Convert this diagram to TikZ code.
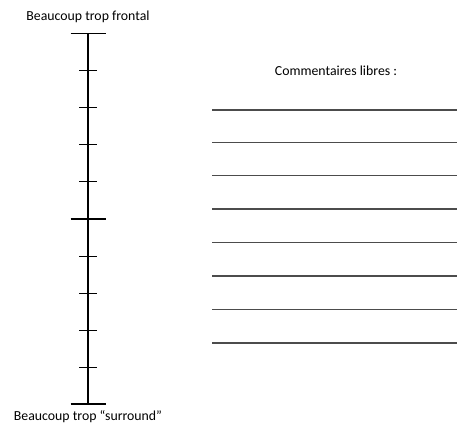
\documentclass[tikz,border=0pt]{standalone}
\usepackage{fontspec}
\setmainfont{Carlito}
\usepackage{tikz}
\usetikzlibrary{positioning}

\begin{document}
\begin{tikzpicture}[x=1pt, y=-1pt, font=\fontsize{13.8}{16}\selectfont]
    \useasboundingbox (0,0) rectangle (457,423);

    % the scale: main axis
    \coordinate (top) at (88, 33.5);
    \coordinate (bottom) at (88, 404);
    \draw [line width=1.3pt] (top) -- (bottom);

    % long ticks at both ends and in the middle
    \foreach \y in {33.5, 219, 404}
        \draw [line width=1.8pt] (70.5,\y) -- (105.5,\y);

    % short ticks
    \foreach \y in {70.6, 107.7, 144.8, 181.9, 256.1, 293.2, 330.3, 367.4}
        \draw [line width=0.9pt] (79,\y) -- (97,\y);

    % labels at the ends of the scale
    \node (frontal) at (88, 16.5) {Beaucoup trop frontal};
    \node (surround) at (88, 416.5) {Beaucoup trop “surround”};

    % free comments
    \node (comments) at (336, 71) {Commentaires libres :};

    % lines to write on
    \foreach \y in {110, 142.5, 175.5, 209, 242.5, 276, 309.5, 343}
        \draw [line width=1.2pt, black!70] (212,\y) -- (457,\y);

\end{tikzpicture}
\end{document}
